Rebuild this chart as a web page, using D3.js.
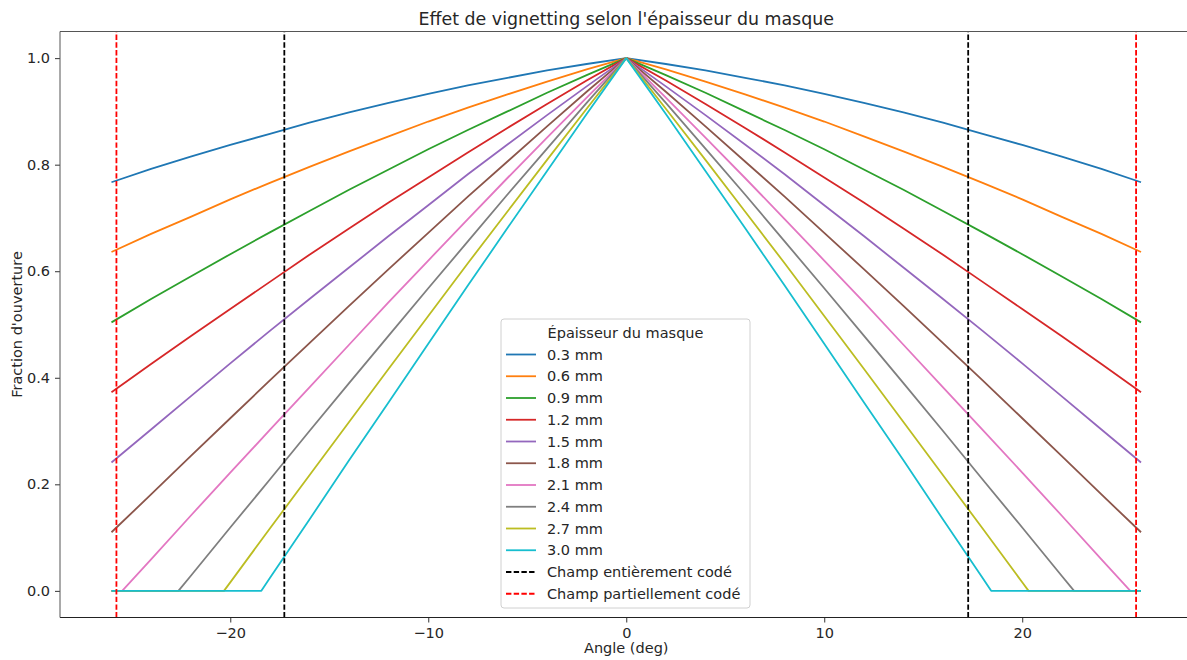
<!DOCTYPE html>
<html>
<head>
<meta charset="utf-8">
<script src="https://cdn.jsdelivr.net/npm/d3@7"></script>
<style>
  html, body { margin: 0; padding: 0; background: #fff; }
  svg { display: block; font-family: "DejaVu Sans", sans-serif; }
</style>
</head>
<body>
<svg id="chart" width="1187" height="660"></svg>
<script>
// ---- data ----
const angles = [-26,-24,-22,-20,-18,-16,-14,-12,-10,-8,-6,-4,-2,0,2,4,6,8,10,12,14,16,18,20,22,24,26];

const thicknessLabels = ["0.3 mm","0.6 mm","0.9 mm","1.2 mm","1.5 mm","1.8 mm","2.1 mm","2.4 mm","2.7 mm","3.0 mm"];

const v03 = [0.767,0.792,0.815,0.837,0.858,0.879,0.898,0.916,0.933,0.949,0.963,0.977,0.989,1.000,0.989,0.977,0.963,0.949,0.933,0.916,0.898,0.879,0.858,0.837,0.815,0.792,0.767];
const v06 = [0.636,0.670,0.702,0.735,0.766,0.796,0.825,0.853,0.881,0.907,0.932,0.956,0.979,1.000,0.979,0.956,0.932,0.907,0.881,0.853,0.825,0.796,0.766,0.735,0.702,0.670,0.636];
const v09 = [0.504,0.548,0.590,0.632,0.673,0.713,0.753,0.791,0.829,0.865,0.900,0.935,0.968,1.000,0.968,0.935,0.900,0.865,0.829,0.791,0.753,0.713,0.673,0.632,0.590,0.548,0.504];
const v12 = [0.373,0.426,0.478,0.529,0.580,0.631,0.680,0.729,0.776,0.823,0.869,0.914,0.958,1.000,0.958,0.914,0.869,0.823,0.776,0.729,0.680,0.631,0.580,0.529,0.478,0.426,0.373];
const v15 = [0.241,0.303,0.365,0.427,0.488,0.548,0.607,0.666,0.724,0.782,0.838,0.893,0.947,1.000,0.947,0.893,0.838,0.782,0.724,0.666,0.607,0.548,0.488,0.427,0.365,0.303,0.241];
const v18 = [0.110,0.181,0.253,0.324,0.395,0.465,0.535,0.604,0.672,0.740,0.806,0.872,0.937,1.000,0.937,0.872,0.806,0.740,0.672,0.604,0.535,0.465,0.395,0.324,0.253,0.181,0.110];
const v21 = [0,0.059,0.141,0.222,0.302,0.382,0.462,0.542,0.620,0.698,0.775,0.851,0.926,1.000,0.926,0.851,0.775,0.698,0.620,0.542,0.462,0.382,0.302,0.222,0.141,0.059,0];
const v24 = [0,0,0.028,0.119,0.209,0.300,0.390,0.479,0.568,0.656,0.744,0.830,0.916,1.000,0.916,0.830,0.744,0.656,0.568,0.479,0.390,0.300,0.209,0.119,0.028,0,0];
const v27 = [0,0,0,0.016,0.117,0.217,0.317,0.417,0.516,0.615,0.712,0.809,0.905,1.000,0.905,0.809,0.712,0.615,0.516,0.417,0.317,0.217,0.117,0.016,0,0,0];
const v30 = [0,0,0,0,0.024,0.134,0.245,0.354,0.464,0.573,0.681,0.788,0.895,1.000,0.895,0.788,0.681,0.573,0.464,0.354,0.245,0.134,0.024,0,0,0,0];
const seriesValues = [v03,v06,v09,v12,v15,v18,v21,v24,v27,v30];

// angle (deg) at which each curve reaches zero (null = never)
const zeroAngles = [null,null,null,null,null,null,25.46,22.62,20.32,18.43];

const fullFieldAngles = [-17.27, 17.27];     // Champ entièrement codé
const partialFieldAngles = [-25.75, 25.75];  // Champ partiellement codé

const xTicks = [-20,-10,0,10,20];
const yTicks = [0.0,0.2,0.4,0.6,0.8,1.0];

const colors = ["#1f77b4","#ff7f0e","#2ca02c","#d62728","#9467bd","#8c564b","#e377c2","#7f7f7f","#bcbd22","#17becf"];

(function () {
// ---- layout ----
const svg = d3.select("#chart");
const mL = 60, mR = 1192.5, mT = 31.5, mB = 617.5;
const x = d3.scaleLinear().domain([-28.6, 28.6]).range([mL, mR]);
const y = d3.scaleLinear().domain([-0.05, 1.05]).range([mB, mT]);

const FS = 14.5;

svg.append("defs").append("clipPath").attr("id","clip")
  .append("rect").attr("x",mL).attr("y",mT).attr("width",mR-mL).attr("height",mB-mT);

const plot = svg.append("g").attr("clip-path","url(#clip)");

// series
const line = d3.line().x(d => x(d[0])).y(d => y(d[1]));
seriesValues.forEach((vals, i) => {
  let pts = angles.map((a, k) => [a, vals[k]]);
  if (zeroAngles[i] !== null) {
    pts.push([-zeroAngles[i], 0], [zeroAngles[i], 0]);
    pts.sort((a, b) => a[0] - b[0]);
  }
  plot.append("path").datum(pts)
    .attr("d", line)
    .attr("fill","none")
    .attr("stroke", colors[i])
    .attr("stroke-width", 1.8)
    .attr("stroke-linejoin","round");
});

// vertical reference lines
function vline(a, color) {
  plot.append("line")
    .attr("x1", x(a)).attr("x2", x(a))
    .attr("y1", y(-0.05)).attr("y2", y(1.05))
    .attr("stroke", color).attr("stroke-width", 1.8)
    .attr("stroke-dasharray", "5.4,2.3");
}
fullFieldAngles.forEach(a => vline(a, "#000"));
partialFieldAngles.forEach(a => vline(a, "#ff0000"));

// axes
const xAxis = svg.append("g").attr("transform", `translate(0,${mB})`)
  .call(d3.axisBottom(x).tickValues(xTicks).tickSize(5).tickPadding(5)
    .tickFormat(d => d < 0 ? "\u2212" + Math.abs(d) : d));
const yAxis = svg.append("g").attr("transform", `translate(${mL},0)`)
  .call(d3.axisLeft(y).tickValues(yTicks).tickSize(5).tickPadding(5).tickFormat(d3.format(".1f")));
[xAxis, yAxis].forEach(g => {
  g.select(".domain").remove();
  g.selectAll("text").attr("font-family","DejaVu Sans").attr("font-size", FS).attr("fill","#262626");
  g.selectAll("line").attr("stroke","#333").attr("stroke-width",1);
});

// spines
svg.append("line").attr("x1",mL).attr("x2",mR).attr("y1",mT).attr("y2",mT).attr("stroke","#555").attr("stroke-width",1);
svg.append("line").attr("x1",mL).attr("x2",mR).attr("y1",mB).attr("y2",mB).attr("stroke","#222").attr("stroke-width",1);
svg.append("line").attr("x1",mL).attr("x2",mL).attr("y1",mT).attr("y2",mB).attr("stroke","#555").attr("stroke-width",1);
svg.append("line").attr("x1",mR).attr("x2",mR).attr("y1",mT).attr("y2",mB).attr("stroke","#555").attr("stroke-width",1);

// title & labels
svg.append("text").attr("x", (mL+mR)/2).attr("y", 25)
  .attr("text-anchor","middle").attr("font-size", 17.4).attr("fill","#262626")
  .text("Effet de vignetting selon l'épaisseur du masque");
svg.append("text").attr("x", x(0)).attr("y", 653)
  .attr("text-anchor","middle").attr("font-size", FS).attr("fill","#262626")
  .text("Angle (deg)");
svg.append("text").attr("transform", `translate(22,${(mT+mB)/2}) rotate(-90)`)
  .attr("text-anchor","middle").attr("font-size", FS).attr("fill","#262626")
  .text("Fraction d'ouverture");

// legend
const lg = svg.append("g");
const lx = 501, ly = 319, lw = 249, lh = 289;
lg.append("rect").attr("x",lx).attr("y",ly).attr("width",lw).attr("height",lh)
  .attr("rx",3).attr("fill","#fff").attr("fill-opacity",0.8).attr("stroke","#d0d0d0");
lg.append("text").attr("x", lx + lw/2).attr("y", 333).attr("dominant-baseline","central")
  .attr("text-anchor","middle").attr("font-size", FS).attr("fill","#262626")
  .text("Épaisseur du masque");
const legendItems = thicknessLabels.map((l, i) => ({label: l, color: colors[i], dash: null}))
  .concat([{label: "Champ entièrement codé", color: "#000", dash: "5.4,2.3"},
           {label: "Champ partiellement codé", color: "#ff0000", dash: "5.4,2.3"}]);
legendItems.forEach((it, i) => {
  const cy = 354.5 + i * 21.75;
  lg.append("line").attr("x1", 506).attr("x2", 536).attr("y1", cy).attr("y2", cy)
    .attr("stroke", it.color).attr("stroke-width", 1.8)
    .attr("stroke-dasharray", it.dash);
  lg.append("text").attr("x", 547).attr("y", cy).attr("dominant-baseline","central")
    .attr("font-size", FS).attr("fill","#262626").text(it.label);
});
})();
</script>
</body>
</html>
